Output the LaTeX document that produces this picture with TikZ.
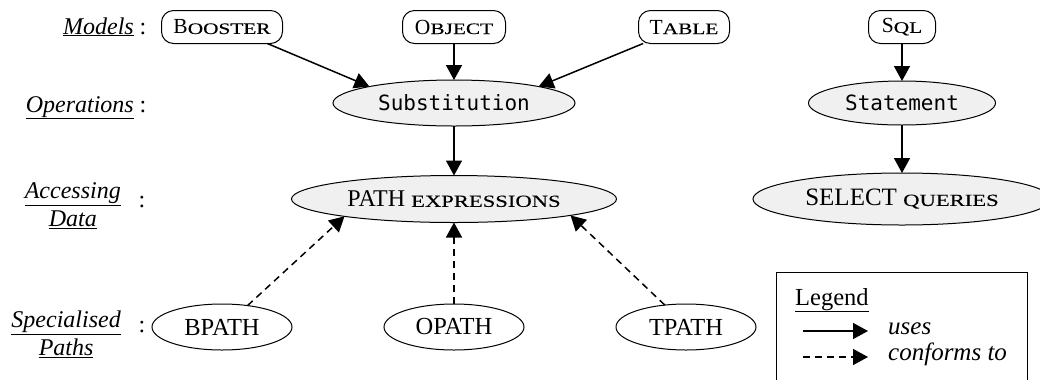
\documentclass[tikz,border=0pt]{standalone}
\usepackage{fontspec}
\setmainfont{Liberation Serif}
\setmonofont{DejaVu Sans Mono}
\usetikzlibrary{arrows.meta,shapes.geometric}
\definecolor{nodefill}{RGB}{240,240,240}
\newcommand\fsc[2][16]{{\fontsize{#1bp}{#1bp}\selectfont\addfontfeature{FakeStretch=1.33,FakeBold=0.2}#2}}
\newcommand\fsz[1]{\fontsize{#1bp}{#1bp}\selectfont}
\tikzset{
  model/.style={draw, line width=1bp, rounded corners=12bp, minimum height=33bp, inner sep=0pt, outer sep=0pt, font=\fsz{21.5}},
  oper/.style={ellipse, draw, line width=1bp, fill=nodefill, inner sep=0pt, outer sep=0pt, font=\fsz{21}\ttfamily},
  access/.style={ellipse, draw, line width=1bp, fill=nodefill, inner sep=0pt, outer sep=0pt},
  spec/.style={ellipse, draw, line width=1bp, inner sep=0pt, outer sep=0pt, minimum width=140bp, minimum height=46bp, font=\fsz{24.5}},
  rowlabel/.style={font=\fsz{24}\itshape, inner sep=0pt},
  twolabel/.style={font={\fontsize{24bp}{28bp}\selectfont\itshape}, inner sep=0pt, align=center},
  colon/.style={font=\fsz{24}, inner sep=0pt},
  uses/.style={line width=1.5bp, -{Triangle[length=15bp,width=16bp]}},
  conforms/.style={line width=1.5bp, dash pattern=on 7bp off 5bp, -{Triangle[length=15bp,width=16bp]}},
}
\begin{document}
\begin{tikzpicture}[x=1bp,y=-1bp]
\clip (0,0) rectangle (1040,379);
\fill[white] (0,0) rectangle (1040,379);

% row labels
\node[rowlabel, anchor=base east] (lmodels) at (134,34) {\underline{Models}};
\node[colon, anchor=base] (cmodels) at (143,34) {:};
\node[rowlabel, anchor=base east] (loper) at (134,112) {\underline{Operations}};
\node[colon, anchor=base] (coper) at (143,112) {:};
\node[twolabel, anchor=east] (laccess) at (121,206) {\underline{Accessing}\\\underline{Data}};
\node[colon] (caccess) at (142,202) {:};
\node[twolabel, anchor=east] (lspec) at (121,334) {\underline{Specialised}\\\underline{Paths}};
\node[colon] (cspec) at (142,327) {:};

% models
\node[model, minimum width=121bp] (booster) at (222,27) {B\fsc{OOSTER}};
\node[model, minimum width=103bp] (object) at (454,27) {O\fsc{BJECT}};
\node[model, minimum width=91bp] (table) at (684,27) {T\fsc{ABLE}};
\node[model, minimum width=67bp] (sql) at (902,27) {S\fsc{QL}};

% operations
\node[oper, minimum width=242bp, minimum height=46bp] (subst) at (454,103) {Substitution};
\node[oper, minimum width=187bp, minimum height=44bp] (stmt) at (902,103) {Statement};

% accessing data
\node[access, minimum width=325bp, minimum height=47bp, font=\fsz{24}] (pathx) at (454,199) {PATH \fsc[17]{EXPRESSIONS}};
\node[access, minimum width=298bp, minimum height=52bp, font=\fsz{25}] (select) at (902,199) {SELECT \fsc[17]{QUERIES}};

% specialised paths
\node[spec] (bpath) at (222,327) {BPATH};
\node[spec] (opath) at (454,327) {OPATH};
\node[spec] (tpath) at (686,327) {TPATH};

% connectors
\draw[uses] (booster.-20) -- (subst.169);
\draw[uses] (object.south) -- (subst.north);
\draw[uses] (table.-158) -- (subst.11);
\draw[uses] (subst.south) -- (pathx.north);
\draw[uses] (sql.south) -- (stmt.north);
\draw[uses] (stmt.south) -- (select.north);
\draw[conforms] (bpath.40) -- (pathx.189);
\draw[conforms] (opath.north) -- (pathx.south);
\draw[conforms] (tpath.134) -- (pathx.-8);

% legend
\node[draw, line width=1bp, minimum width=251bp, minimum height=160bp, anchor=north west, inner sep=0pt] (legendbox) at (776,272) {};
\node[font=\fsz{24.5}, anchor=base west, inner sep=0pt] (legendtitle) at (795,305) {\underline{Legend}};
\coordinate (u1) at (803,331);
\coordinate (u2) at (868,331);
\coordinate (c1) at (803,357);
\coordinate (c2) at (868,357);
\draw[uses] (u1) -- (u2);
\draw[conforms] (c1) -- (c2);
\node[font=\fsz{25}\itshape, anchor=base west, inner sep=0pt] (usestext) at (888,334) {uses};
\node[font=\fsz{25}\itshape, anchor=base west, inner sep=0pt] (conftext) at (888,360) {conforms to};
\end{tikzpicture}
\end{document}
